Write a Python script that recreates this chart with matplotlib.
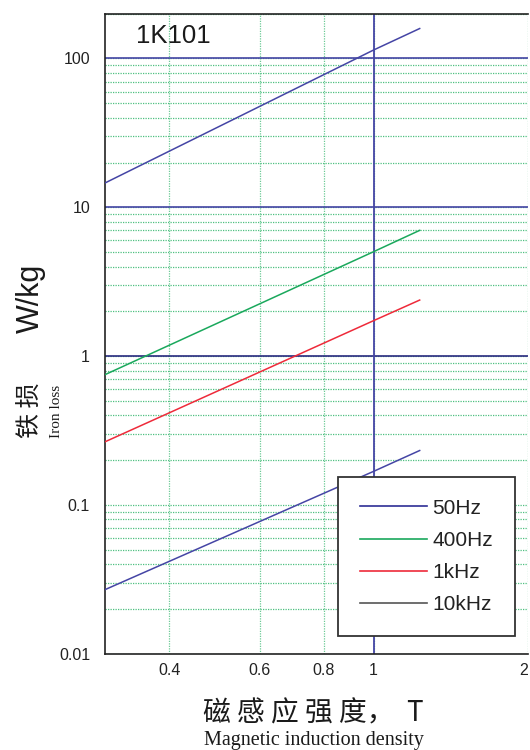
import matplotlib
matplotlib.use("Agg")
import matplotlib.pyplot as plt
from matplotlib.lines import Line2D
from matplotlib.ticker import LogLocator, NullLocator, FixedLocator, FixedFormatter, NullFormatter

plt.rcParams['font.family'] = ['Liberation Sans', 'Noto Sans CJK SC', 'DejaVu Sans']

# ---- data ----
B = [0.3, 1.0, 1.23]                      # magnetic induction, T
loss_50hz = [0.027, 0.168, 0.232]
loss_400hz = [0.752, 5.03, 7.0]
loss_1khz = [0.266, 1.73, 2.38]
loss_10khz = [14.6, 114, 159]

legend_labels = ["50Hz", "400Hz", "1kHz", "10kHz"]
xticks = [0.4, 0.6, 0.8, 1, 2]
xtick_labels = ["0.4", "0.6", "0.8", "1", "2"]
yticks = [0.01, 0.1, 1, 10, 100]
ytick_labels = ["0.01", "0.1", "1", "10", "100"]
major_lines_y = [1, 10, 100]
major_line_x = [1]

W, H = 530, 750
fig = plt.figure(figsize=(W / 100, H / 100), dpi=100)
left, right, top, bottom = 105.3, 528.0, 13.7, 653.7
ax = fig.add_axes([left / W, 1 - bottom / H, (right - left) / W, (bottom - top) / H])
ax.set_xscale('log')
ax.set_yscale('log')
ax.set_xlim(0.3, 2.0)
ax.set_ylim(0.01, 200)

blue = '#4545a5'
navy = '#2a2a80'
legblue = '#2e2e95'
green = '#1aa85c'
red = '#ee2a3a'
gray = '#555555'
gridgreen = '#2fb56a'

# grids
ax.yaxis.set_major_locator(FixedLocator(yticks))
ax.yaxis.set_major_formatter(FixedFormatter(ytick_labels))
ax.yaxis.set_minor_locator(LogLocator(base=10, subs=[2, 3, 4, 5, 6, 7, 8, 9], numticks=20))
ax.yaxis.set_minor_formatter(NullFormatter())
ax.xaxis.set_major_locator(FixedLocator(xticks))
ax.xaxis.set_major_formatter(FixedFormatter(xtick_labels))
ax.xaxis.set_minor_locator(NullLocator())
ax.grid(which='both', axis='y', color=gridgreen, linestyle=(0, (1, 1)), linewidth=0.9, alpha=0.85)
ax.grid(which='major', axis='x', color=gridgreen, linestyle=(0, (1, 1)), linewidth=0.9, alpha=0.7)
ax.set_axisbelow(True)

for yv in major_lines_y:
    ax.axhline(yv, color=navy if yv == 1 else blue, linewidth=1.2, zorder=1.5)
for xv in major_line_x:
    ax.axvline(xv, color=blue, linewidth=1.3, zorder=1.5)

# data lines
ax.plot(B, loss_10khz, color=blue, linewidth=1.1, zorder=3)
ax.plot(B, loss_400hz, color=green, linewidth=1.1, zorder=3)
ax.plot(B, loss_1khz, color=red, linewidth=1.1, zorder=3)
ax.plot(B, loss_50hz, color=blue, linewidth=1.1, zorder=3)

# spines / ticks
for s in ['left', 'bottom', 'top']:
    ax.spines[s].set_color('#222222')
    ax.spines[s].set_linewidth(1.2)
ax.spines['right'].set_visible(False)
ax.tick_params(axis='both', which='both', length=0, labelsize=11.5, colors='#222222')
ax.tick_params(axis='y', pad=11)
ax.tick_params(axis='x', pad=7)
for lab in ax.get_xticklabels():
    if lab.get_text() == "2":
        lab.set_horizontalalignment('right')

ax.text((136 - left) / (right - left), 1 - (36 - top) / (bottom - top), "1K101",
        transform=ax.transAxes, fontsize=18.5, color='#1a1a1a', ha='left', va='center')

# legend
handles = [Line2D([], [], color=c, linewidth=1.2) for c in [legblue, green, red, gray]]
bx0, by0, bx1, by1 = 338, 476, 515, 637
leg = ax.legend(handles, legend_labels, loc='center',
                bbox_to_anchor=(((bx0 + bx1) / 2 - left) / (right - left),
                                1 - ((by0 + by1) / 2 - top) / (bottom - top)),
                fontsize=15, frameon=True, fancybox=False, handlelength=3.2, handletextpad=0.25,
                labelspacing=0.64, borderpad=1.05, borderaxespad=0, framealpha=1)
leg.get_frame().set_edgecolor('#333333')
leg.get_frame().set_linewidth(1.3)
leg.set_zorder(5)
for t in leg.get_texts():
    t.set_color('#222222')

# axis titles
fig.text(31 / W, 1 - 298 / H, "W/kg", rotation=90, fontsize=22, ha='center', va='center', color='#1a1a1a')
fig.text(31 / W, 1 - 410 / H, "铁 损", rotation=90, fontsize=18, ha='center', va='center',
         color='#1a1a1a', family=['Noto Sans CJK SC', 'DejaVu Sans'])
fig.text(57 / W, 1 - 411 / H, "Iron loss", rotation=90, fontsize=11, ha='center', va='center',
         color='#1a1a1a', family=['Liberation Serif', 'DejaVu Serif'])
fig.text(313 / W, 1 - 713 / H, "磁 感 应 强 度，  T", fontsize=20, ha='center', va='center',
         color='#1a1a1a', family=['Noto Sans CJK SC', 'DejaVu Sans'])
fig.text(314 / W, 1 - 745 / H, "Magnetic induction density", fontsize=14.5, ha='center', va='baseline',
         color='#1a1a1a', family=['Liberation Serif', 'DejaVu Serif'])

fig.savefig("out.png", dpi=100)
